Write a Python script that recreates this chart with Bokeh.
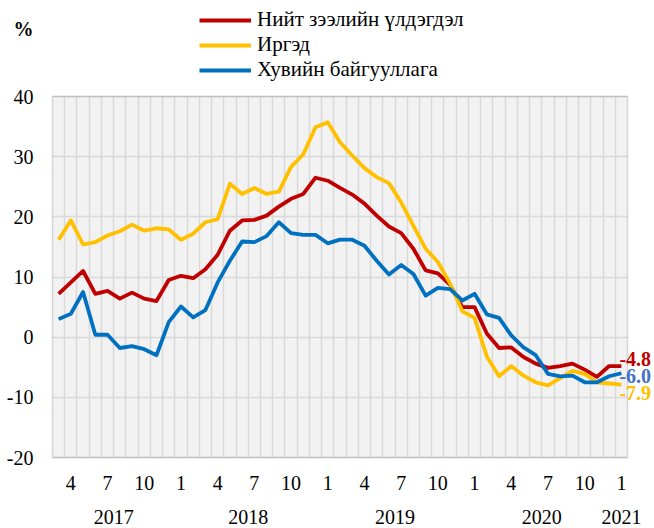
from bokeh.plotting import figure
from bokeh.models import (BoxAnnotation, ColumnDataSource, FixedTicker, Label, LabelSet,
                          Legend, LegendItem, LinearAxis, Range1d)
from bokeh.embed import file_html
from bokeh.resources import INLINE

# ---------------- data ----------------
months = [3, 4, 5, 6, 7, 8, 9, 10, 11, 12] + list(range(1, 13)) * 3 + [1]
years = [2017] * 10 + [2018] * 12 + [2019] * 12 + [2020] * 12 + [2021]

total_loans = [7.2, 9.1, 11.0, 7.2, 7.7, 6.4, 7.4, 6.4, 6.0, 9.5,
               10.2, 9.8, 11.3, 13.7, 17.7, 19.4, 19.5, 20.2, 21.7, 23.0, 23.8, 26.5,
               26.0, 24.8, 23.7, 22.2, 20.2, 18.4, 17.3, 14.7, 11.1, 10.6, 8.7, 5.0,
               5.0, 0.6, -1.8, -1.7, -3.3, -4.4, -5.1, -4.8, -4.4, -5.4, -6.6, -4.8,
               -4.8]
individuals = [16.2, 19.4, 15.4, 15.8, 16.9, 17.6, 18.7, 17.7, 18.1, 17.9,
               16.2, 17.2, 19.1, 19.6, 25.5, 23.8, 24.8, 23.8, 24.2, 28.3, 30.4, 34.9,
               35.7, 32.4, 30.2, 28.1, 26.6, 25.6, 22.4, 18.5, 14.7, 12.5, 8.9, 4.3,
               3.2, -3.2, -6.5, -4.8, -6.4, -7.5, -8.0, -6.8, -5.6, -6.1, -7.5, -7.7,
               -7.9]
businesses = [3.0, 3.9, 7.5, 0.4, 0.4, -1.8, -1.5, -2.0, -3.0, 2.5,
              5.1, 3.3, 4.5, 9.1, 12.7, 15.9, 15.8, 16.8, 19.1, 17.3, 17.0, 17.0,
              15.6, 16.2, 16.2, 15.2, 12.7, 10.4, 12.0, 10.5, 6.9, 8.2, 8.0, 6.1,
              7.2, 3.8, 3.2, 0.3, -1.7, -3.0, -6.1, -6.5, -6.4, -7.5, -7.5, -6.5,
              -6.0]

series_names = ["Нийт зээлийн үлдэгдэл", "Иргэд", "Хувийн байгууллага"]
series_values = [total_loans, individuals, businesses]
series_colors = ["#C00000", "#FFC000", "#0070C0"]
end_label_colors = ["#C00000", "#FFC000", "#4472C4"]
end_label_offsets = [7, -8, -3]

month_tick_values = [1, 4, 7, 10]
y_ticks = [-20, -10, 0, 10, 20, 30, 40]
unit_label = "%"

FONT = "Liberation Serif"
W, H = 654, 528

# plot-area placement inside the canvas (pixels)
AREA_L, AREA_R, AREA_T, AREA_B = 52, 627, 96, 457

n = len(months)
x = list(range(n))
x0, x1 = -0.5, n - 0.5
y0, y1 = min(y_ticks), max(y_ticks)
ppx = (AREA_R - AREA_L) / (x1 - x0)
ppy = (AREA_B - AREA_T) / (y1 - y0)

p = figure(width=W, height=H, output_backend="svg", toolbar_location=None,
           x_range=Range1d(x0 - AREA_L / ppx, x1 + (W - AREA_R) / ppx),
           y_range=Range1d(y0 - (H - AREA_B) / ppy, y1 + AREA_T / ppy),
           min_border=0)
p.title.visible = False
p.background_fill_color = "white"
p.border_fill_color = "white"
p.outline_line_color = None

# plot area background and border
p.add_layout(BoxAnnotation(left=x0, right=x1, bottom=y0, top=y1,
                           fill_color="#F2F2F2", fill_alpha=1.0,
                           line_color=None, level="image"))
p.add_layout(BoxAnnotation(left=x0, right=x1, bottom=y0, top=y1,
                           fill_color=None, fill_alpha=0,
                           line_color="#898989", line_width=1.5, level="guide"))


def style_axis(ax, standoff):
    ax.axis_line_color = None
    ax.major_tick_line_color = None
    ax.minor_tick_line_color = None
    ax.major_tick_out = 0
    ax.major_tick_in = 0
    ax.major_label_standoff = standoff
    ax.major_label_text_font = FONT
    ax.major_label_text_font_size = "20px"
    ax.major_label_text_color = "black"


# y axis
yax = p.yaxis[0]
yax.fixed_location = x0
yax.ticker = FixedTicker(ticks=y_ticks)
yax.major_label_overrides = {t: str(t) for t in y_ticks}
style_axis(yax, 19)

# month axis
month_ticks = [i for i, m in enumerate(months) if m in month_tick_values]
xax = p.xaxis[0]
xax.fixed_location = y0
xax.ticker = FixedTicker(ticks=month_ticks)
xax.major_label_overrides = {i: str(months[i]) for i in month_ticks}
style_axis(xax, 18)

# year axis
year_list = sorted(set(years))
year_centers = []
for yv in year_list:
    idx = [i for i, yy in enumerate(years) if yy == yv]
    year_centers.append(sum(idx) / len(idx))
yr_ax = LinearAxis(fixed_location=y0, ticker=FixedTicker(ticks=year_centers),
                   major_label_overrides={c: str(yv) for c, yv in zip(year_centers, year_list)})
style_axis(yr_ax, 52)
p.add_layout(yr_ax, "below")

# grids
p.xgrid.ticker = FixedTicker(ticks=[i + 0.5 for i in range(n - 1)])
p.xgrid.cross_bounds = (y0, y1)
p.xgrid.grid_line_color = "#D9D9D9"
p.xgrid.grid_line_width = 1.5
p.ygrid.ticker = FixedTicker(ticks=y_ticks)
p.ygrid.cross_bounds = (x0, x1)
p.ygrid.grid_line_color = "#D9D9D9"
p.ygrid.grid_line_width = 1.5

# lines
items = []
for name, vals, col in zip(series_names, series_values, series_colors):
    r = p.line(x, vals, line_color=col, line_width=3.8, line_join="round")
    items.append(LegendItem(label=name, renderers=[r]))

legend = Legend(items=items, location=(199, H - 82), orientation="vertical",
                glyph_width=52, glyph_height=24, label_height=24, spacing=-2,
                label_standoff=6, padding=0, margin=0,
                border_line_color=None, background_fill_alpha=0,
                label_text_font=FONT, label_text_font_size="21px",
                label_text_color="black")
p.add_layout(legend, "center")

# end labels
end_src = ColumnDataSource(dict(
    x=[n - 1] * len(series_values),
    y=[v[-1] for v in series_values],
    text=[f"{v[-1]:.1f}" for v in series_values],
    color=end_label_colors,
    yoff=end_label_offsets,
))
p.add_layout(LabelSet(x="x", y="y", text="text", source=end_src,
                      x_offset=-2, y_offset="yoff", text_color="color",
                      text_font=FONT, text_font_size="20px", text_font_style="bold",
                      text_baseline="middle", text_align="left"))

# unit label
p.add_layout(Label(x=23, y=H - 28, x_units="screen", y_units="screen",
                   text=unit_label, text_font=FONT, text_font_size="20px",
                   text_font_style="bold", text_align="center",
                   text_baseline="middle", text_color="black"))

open("out.html", "w").write(file_html(p, INLINE))
